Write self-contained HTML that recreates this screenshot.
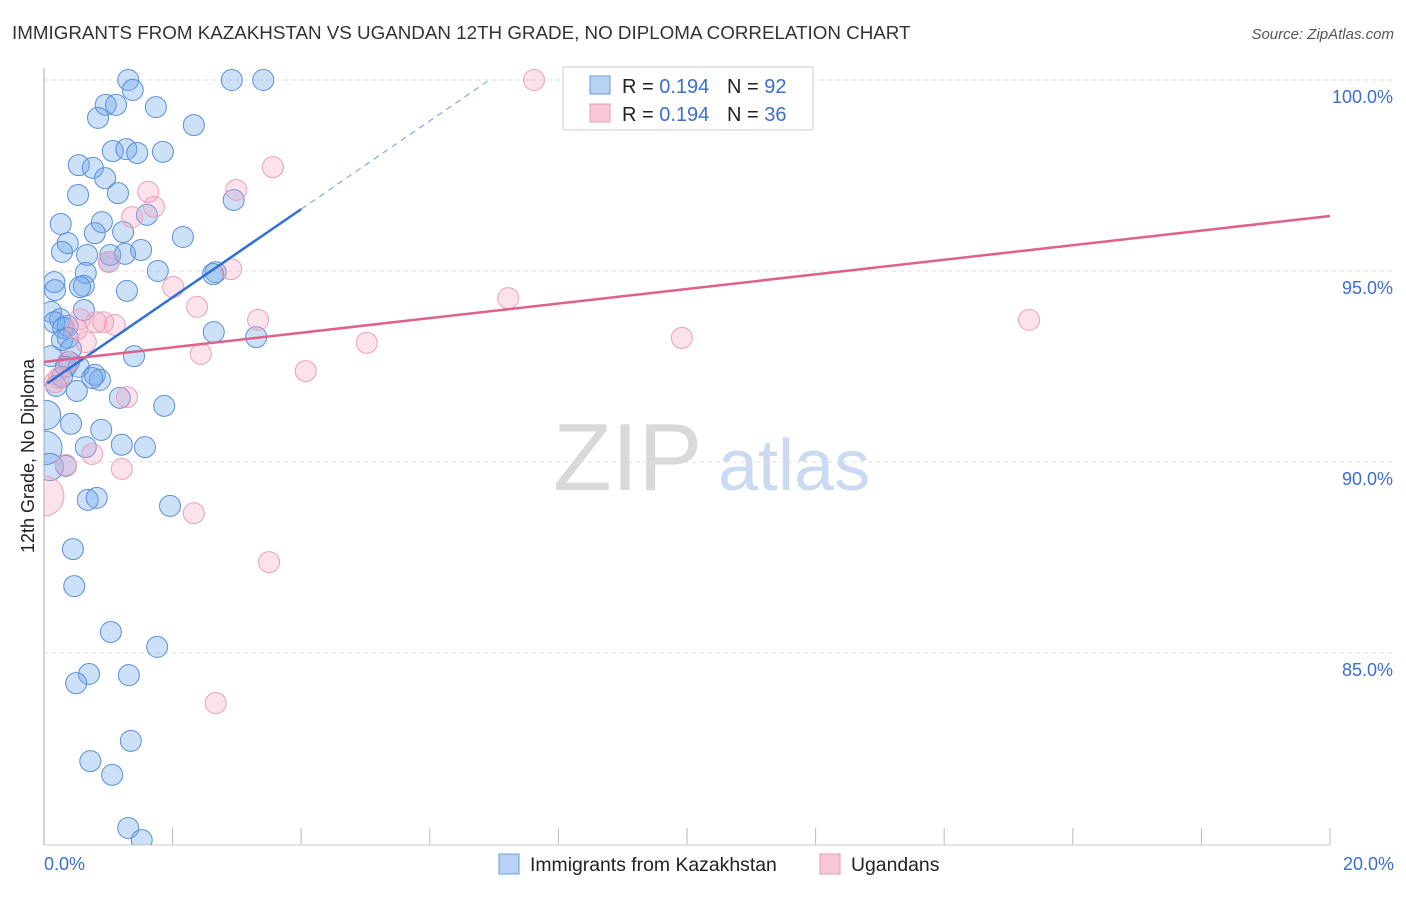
<!DOCTYPE html>
<html><head><meta charset="utf-8"><style>
body{margin:0;background:#fff;font-family:"Liberation Sans",sans-serif;}
svg text{font-family:"Liberation Sans",sans-serif;}
</style></head><body>
<svg width="1406" height="892" xmlns="http://www.w3.org/2000/svg">
<defs><clipPath id="plotclip"><rect x="44" y="0" width="1362" height="845"/></clipPath></defs>
<text x="12" y="39" font-size="18.8" fill="#333">IMMIGRANTS FROM KAZAKHSTAN VS UGANDAN 12TH GRADE, NO DIPLOMA CORRELATION CHART</text>
<text x="1394" y="39" font-size="15" fill="#555" font-style="italic" text-anchor="end">Source: ZipAtlas.com</text>
<g><text x="553" y="490" font-size="96" fill="#d9d9d9" font-family="Liberation Serif,serif">ZIP</text><text x="718" y="490" font-size="72" fill="#c9daf2">atlas</text></g>
<g id="grid"></g>
<line x1="44" y1="68" x2="44" y2="845" stroke="#aaa"/>
<line x1="44" y1="845" x2="1330" y2="845" stroke="#ccc"/>
<text transform="translate(34,456) rotate(-90)" font-size="18" fill="#222" text-anchor="middle">12th Grade, No Diploma</text>
<text x="44" y="870" font-size="18" fill="#3a6fd0">0.0%</text>
<text x="1394" y="870" font-size="18" fill="#3a6fd0" text-anchor="end">20.0%</text>
<g id="pts" clip-path="url(#plotclip)"></g>
<g id="lines"></g>
<g>
<rect x="563" y="67" width="250" height="63" fill="#fff" stroke="#ccc"/>
<rect x="590" y="76" width="20" height="18" fill="#b8d2f5" stroke="#6a9be0"/>
<rect x="590" y="104" width="20" height="18" fill="#f9c8d8" stroke="#e89ab5"/>
<text x="622" y="93" font-size="20" fill="#222">R = <tspan fill="#3a6fd0">0.194</tspan></text>
<text x="727" y="93" font-size="20" fill="#222">N = <tspan fill="#3a6fd0">92</tspan></text>
<text x="622" y="121" font-size="20" fill="#222">R = <tspan fill="#3a6fd0">0.194</tspan></text>
<text x="727" y="121" font-size="20" fill="#222">N = <tspan fill="#3a6fd0">36</tspan></text>
</g>
<g>
<rect x="499" y="854" width="20" height="20" fill="#b8d2f5" stroke="#6a9be0"/>
<text x="530" y="871" font-size="19.4" fill="#222">Immigrants from Kazakhstan</text>
<rect x="820" y="854" width="20" height="20" fill="#f9c8d8" stroke="#e89ab5"/>
<text x="851" y="871" font-size="19.4" fill="#222">Ugandans</text>
</g>
</svg>
<script>
const yTicks=[100,95,90,85];
const yTickLabels=["100.0%","95.0%","90.0%","85.0%"];
const xTicks=[0,2,4,6,8,10,12,14,16,18,20];
const blueX=[1.31,2.92,3.41,1.38,0.96,1.12,1.74,0.84,2.33,1.07,1.28,1.45,1.85,0.54,0.76,0.95,0.53,1.15,2.95,1.60,0.26,0.90,1.23,0.79,2.16,0.37,1.51,0.28,1.03,1.26,0.67,1.01,1.77,2.67,2.63,0.65,0.16,1.29,0.17,0.62,0.56,0.62,0.11,0.25,0.16,0.37,0.30,0.37,2.64,3.30,0.28,0.42,1.40,0.11,0.39,0.54,0.34,0.79,0.87,0.75,0.28,0.19,0.51,1.18,1.87,0.03,0.42,0.89,0.02,0.65,1.21,1.57,0.09,0.34,0.68,0.82,1.96,0.45,0.47,1.04,1.76,0.70,1.32,0.50,1.35,0.72,1.06,1.31,1.52];
const blueY=[100,100,100,99.74,99.35,99.35,99.29,99.01,98.82,98.14,98.19,98.09,98.12,97.77,97.70,97.43,96.99,97.04,96.86,96.47,96.23,96.28,96.02,95.99,95.89,95.73,95.55,95.50,95.42,95.45,95.42,95.24,95.00,94.97,94.92,94.95,94.71,94.48,94.50,94.61,94.58,93.98,93.93,93.74,93.66,93.56,93.51,93.25,93.40,93.27,93.19,92.96,92.77,92.77,92.62,92.49,92.49,92.28,92.15,92.20,92.23,91.99,91.86,91.68,91.47,91.23,91.00,90.84,90.37,90.39,90.45,90.39,89.87,89.90,89.01,89.06,88.85,87.72,86.75,85.55,85.16,84.45,84.42,84.21,82.70,82.17,81.81,80.42,80.10];
const blueSize=[1,1,1,1,1,1,1,1,1,1,1,1,1,1,1,1,1,1,1,1,1,1,1,1,1,1,1,1,1,1,1,1,1,1,1,1,1,1,1,1,1,1,1,1,1,1,1,1,1,1,1,1,1,1,1,1,1,1,1,1,1,1,1,1,1,1.4,1,1,1.6,1,1,1,1.3,1,1,1,1,1,1,1,1,1,1,1,1,1,1,1,1];
const pinkX=[7.62,3.56,1.62,2.99,1.71,1.37,2.91,1.01,2.01,2.38,7.22,3.33,0.56,0.92,1.10,0.81,0.51,0.65,15.32,9.92,5.02,2.44,0.37,4.07,0.23,0.17,1.29,0.75,0.34,1.21,2.33,3.50,2.67,0];
const pinkY=[100,97.72,97.07,97.12,96.68,96.41,95.05,95.24,94.58,94.06,94.29,93.72,93.74,93.66,93.59,93.66,93.46,93.14,93.72,93.25,93.12,92.83,92.62,92.38,92.20,92.09,91.70,90.21,89.92,89.82,88.66,87.38,83.69,89.11];
const pinkSize=[1,1,1,1,1,1,1,1,1,1,1,1,1,1,1,1,1,1,1,1,1,1,1,1,1,1,1,1,1,1,1,1,1,1.9];
const blueTrend=[92.0,1.155];
const pinkTrend=[92.62,0.191];
const X=v=>44+v*64.3, Y=v=>80+(100-v)*38.2;
const NS="http://www.w3.org/2000/svg";
function mk(t,a,p){const e=document.createElementNS(NS,t);for(const k in a)e.setAttribute(k,a[k]);p.appendChild(e);return e;}
const grid=document.getElementById('grid');
yTicks.forEach((t,i)=>{
 const l=mk('line',{x1:44,x2:1393,y1:Y(t),y2:Y(t),stroke:'#ddd','stroke-dasharray':'4,4'},grid);
 
 
 const tx=mk('text',{x:1393,y:Y(t)+23,'font-size':18,fill:'#3a6fd0','text-anchor':'end'},grid);
 tx.textContent=yTickLabels[i];
 
 
});
xTicks.forEach(t=>{
 const l=mk('line',{x1:X(t),x2:X(t),y1:828,y2:845,stroke:'#bbb'},grid);
 
 
});
const pts=document.getElementById('pts');
blueX.forEach((x,i)=>{
 const c=mk('circle',{cx:X(x),cy:Y(blueY[i]),r:10.5*blueSize[i],fill:'rgba(110,165,235,0.35)',stroke:'#5a8fd8','stroke-width':1},pts);
 
 
});
pinkX.forEach((x,i)=>{
 const c=mk('circle',{cx:X(x),cy:Y(pinkY[i]),r:10.5*pinkSize[i],fill:'rgba(245,160,190,0.3)',stroke:'#eaa0bb','stroke-width':1},pts);
 
 
});
const lines=document.getElementById('lines');
const bt=x=>blueTrend[0]+blueTrend[1]*x, pt=x=>pinkTrend[0]+pinkTrend[1]*x;
let l1=mk('line',{x1:X(0.05),y1:Y(bt(0.05)),x2:X(4.0),y2:Y(bt(4.0)),stroke:'#2f6fd6','stroke-width':2.5},lines);


let l2=mk('line',{x1:X(4.0),y1:Y(bt(4.0)),x2:X(6.95),y2:Y(bt(6.95)),stroke:'#6a9be0','stroke-width':1,'stroke-dasharray':'6,5'},lines);


let l3=mk('line',{x1:X(0),y1:Y(pt(0)),x2:X(20),y2:Y(pt(20)),stroke:'#e0608a','stroke-width':2.5},lines);


</script>
</body></html>
